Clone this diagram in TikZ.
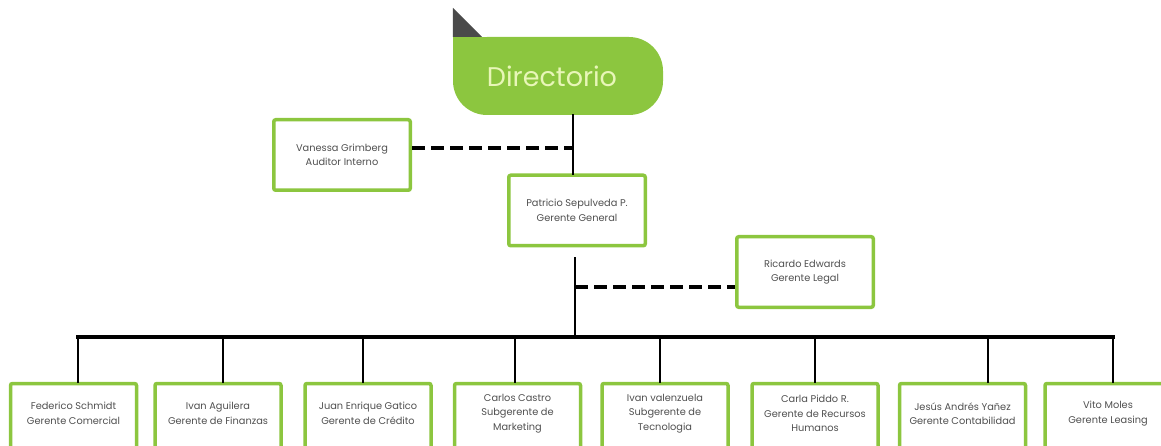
\documentclass[tikz,border=0pt]{standalone}
\usepackage{fontspec}
\setmainfont{Poppins}
\usepackage{tikz}
\usetikzlibrary{positioning,calc}
\usepackage{xcolor}
\definecolor{LeafGreen}{HTML}{8CC63F}
\definecolor{PaleLime}{HTML}{E8F6B8}
\definecolor{FoldGray}{HTML}{4A4A4A}
\definecolor{InkGray}{HTML}{505050}

\newcommand{\cajon}[1]{\vbox to 54pt{\vfil\hbox{\parbox{118pt}{\centering #1}}\vfil}}

\tikzset{
  caja/.style={draw=LeafGreen,line width=3.5pt,fill=white,rounded corners=2pt,
               text=InkGray,font=\fontsize{9.8}{14.5}\selectfont},
  jefe/.style={caja,minimum width=136.5pt,minimum height=70.5pt,align=center},
  area/.style={caja,anchor=north,inner xsep=4pt,inner ysep=3pt,text depth=30pt},
  tronco/.style={line width=2.8pt,line cap=rect},
  barra/.style={line width=4.2pt,line cap=rect},
  apoyo/.style={line width=3.4pt,dash pattern=on 13pt off 6pt}
}

\begin{document}
\begin{tikzpicture}[x=1pt,y=-1pt]
\useasboundingbox (0,0) rectangle (1161,446);
\clip (0,0) rectangle (1161,446);

% directorio
\node[fill=LeafGreen,rounded corners=34pt,minimum width=210pt,minimum height=78pt] (dir) at (558,76) {};
\fill[LeafGreen] (dir.north west) rectangle ++(40,40);
\fill[FoldGray] (dir.north west) -- ++(0,-29) -- ++(29,29) -- cycle;
\node[text=PaleLime,font=\fontsize{27}{30}\selectfont] (dirtxt) at ([xshift=-6pt]dir) {Directorio};

% gerencia y staff
\node[jefe] (van) at (342,155) {Vanessa Grimberg\\Auditor Interno};
\node[jefe] (pat) at (577,210.5) {Patricio Sepulveda P.\\Gerente General};
\node[jefe] (ric) at (805,272) {Ricardo Edwards\\Gerente Legal};

\coordinate (eje) at (573,0);
\coordinate (eje2) at (575,258);
\coordinate (legal) at (575,287);
\coordinate (bus) at (575,337);

\draw[tronco] (dir.south -| eje) -- (pat.north -| eje);
\draw[apoyo] ([yshift=7pt]van.east) -- ([yshift=7pt]van.east -| eje);
\draw[tronco] (eje2) -- (bus);
\draw[apoyo] (legal) -- (legal -| ric.west);

% gerencias de area
\foreach \n/\cx/\dx/\txt in {
  fed/73.5/78/{Federico Schmidt\\Gerente Comercial},
  iva/218/223/{Ivan Aguilera\\Gerente de Finanzas},
  jua/368/363/{Juan Enrique Gatico\\Gerente de Crédito},
  car/517.5/515/{Carlos Castro\\Subgerente de\\Marketing},
  ivv/665/660/{Ivan valenzuela\\Subgerente de\\Tecnologia},
  cpi/815/815/{Carla Piddo R.\\Gerente de Recursos\\Humanos},
  jes/962.5/988/{Jesús Andrés Yañez\\Gerente Contabilidad},
  vit/1108/1113/{Vito Moles\\Gerente Leasing}}{
  \node[area] (\n) at (\cx,381.75) {\cajon{\txt}};
  \coordinate (b\n) at (\dx,337);
  \draw[tronco] (b\n) -- (b\n |- \n.north);
}
\draw[barra] (bfed) -- (bvit);
\end{tikzpicture}
\end{document}
